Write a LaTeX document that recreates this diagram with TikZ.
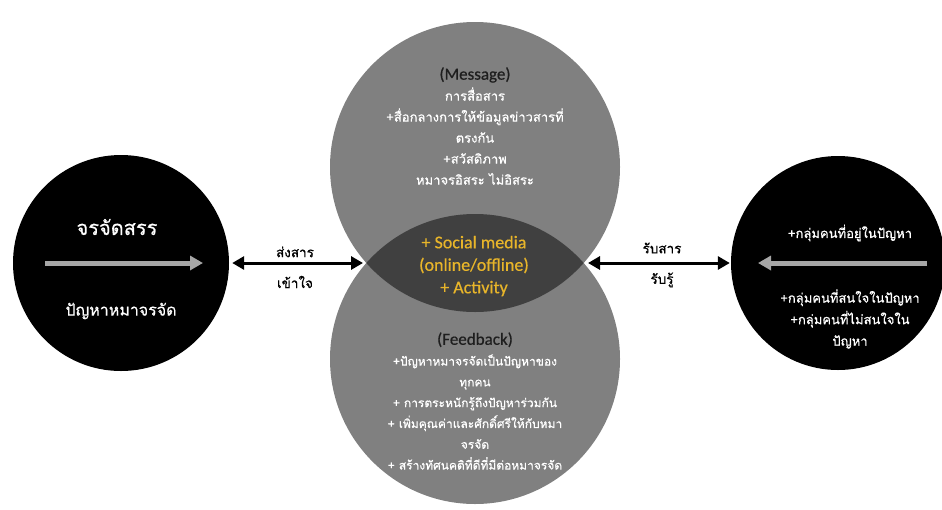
\documentclass[tikz,border=0pt]{standalone}
\usepackage{fontspec}
\setmainfont{Carlito}
\newfontfamily\thai[Script=Thai,FakeBold=0.6]{Loma}
\newfontfamily\latinhead[FakeBold=0.5]{Carlito}
\usetikzlibrary{arrows.meta}
\definecolor{midgrey}{HTML}{808080}
\definecolor{lensgrey}{HTML}{404040}
\definecolor{arrowgrey}{HTML}{A6A6A6}
\definecolor{gold}{HTML}{E8B52A}
\definecolor{headdark}{HTML}{1E1E1E}
\begin{document}
\begin{tikzpicture}[x=1pt,y=-1pt,
  bigcirc/.style={circle, inner sep=0pt, draw=none},
  txt/.style={align=center, inner sep=0pt, text=white},
  dbl/.style={line width=3pt, {Triangle[length=12pt,width=13pt]}-{Triangle[length=12pt,width=13pt]}},
  inarrow/.style={line width=5pt, draw=arrowgrey, -{Triangle[length=13pt,width=14pt]}},
  lbl/.style={inner sep=0pt, text=black, font=\thai\fontsize{13.5}{16}\selectfont}
]
\useasboundingbox (0,0) rectangle (942,509);
% grey circles
\node[bigcirc, fill=midgrey, minimum size=290pt] (msg) at (475,167) {};
\node[bigcirc, fill=midgrey, minimum size=290pt] (fb) at (475,359) {};
\begin{scope}
  \clip (475,167) circle[radius=145];
  \fill[lensgrey] (475,359) circle[radius=145];
\end{scope}
\coordinate (lensL) at (366,263);
\coordinate (lensR) at (584,263);
% black circles
\node[bigcirc, fill=black, minimum size=216pt] (src) at (121,263) {};
\node[bigcirc, fill=black, minimum size=214pt] (dst) at (838,263) {};
% inner grey arrows
\coordinate (srcA) at (45,263);
\coordinate (srcB) at (203,263);
\coordinate (dstA) at (927,263);
\coordinate (dstB) at (758,263);
\draw[inarrow] (srcA) -- (srcB);
\draw[inarrow] (dstA) -- (dstB);
% double arrows
\draw[dbl, shorten <=3pt, shorten >=3pt] (src.east) -- (lensL);
\draw[dbl, shorten <=4pt, shorten >=1pt] (lensR) -- (dst.west);
% arrow labels
\node[lbl] (l1) at (295,252) {ส่งสาร};
\node[lbl] (l2) at (295,282) {เข้าใจ};
\node[lbl] (r1) at (662,248) {รับสาร};
\node[lbl] (r2) at (662,280) {รับรู้};
% left circle text
\node[txt, font=\thai\fontsize{20}{24}\selectfont] (s1) at (117,227) {จรจัดสรร};
\node[txt, font=\thai\fontsize{16}{19}\selectfont] (s2) at (121,311) {ปัญหาหมาจรจัด};
% right circle text
\node[txt, font=\thai\fontsize{13}{16}\selectfont] (d1) at (850,233) {+กลุ่มคนที่อยู่ในปัญหา};
\node[txt, font=\thai\fontsize{13}{21.5}\selectfont] (d2) at (850,319) {+กลุ่มคนที่สนใจในปัญหา\\+กลุ่มคนที่ไม่สนใจใน\\ปัญหา};
% top circle text
\node[txt, font=\thai\fontsize{13}{21}\selectfont] (m1) at (475,126)
  {{\latinhead\fontsize{17}{21}\selectfont\color{headdark}(Message)}\\การสื่อสาร\\+สื่อกลางการให้ข้อมูลข่าวสารที่\\ตรงกัน\\+สวัสดิภาพ\\หมาจรอิสระ ไม่อิสระ};
% lens text
\node[txt, text=gold, font=\latinhead\fontsize{18}{22.5}\selectfont] (c1) at (474,266)
  {+ Social media\\(online/offline)\\+ Activity};
% bottom circle text
\node[txt, font=\thai\fontsize{12}{20.8}\selectfont] (f1) at (475,401)
  {{\latinhead\fontsize{17}{21}\selectfont\color{headdark}(Feedback)}\\+ปัญหาหมาจรจัดเป็นปัญหาของ\\ทุกคน\\+ การตระหนักรู้ถึงปัญหาร่วมกัน\\+ เพิ่มคุณค่าและศักดิ์ศรีให้กับหมา\\จรจัด\\+ สร้างทัศนคติที่ดีที่มีต่อหมาจรจัด};
\end{tikzpicture}
\end{document}
